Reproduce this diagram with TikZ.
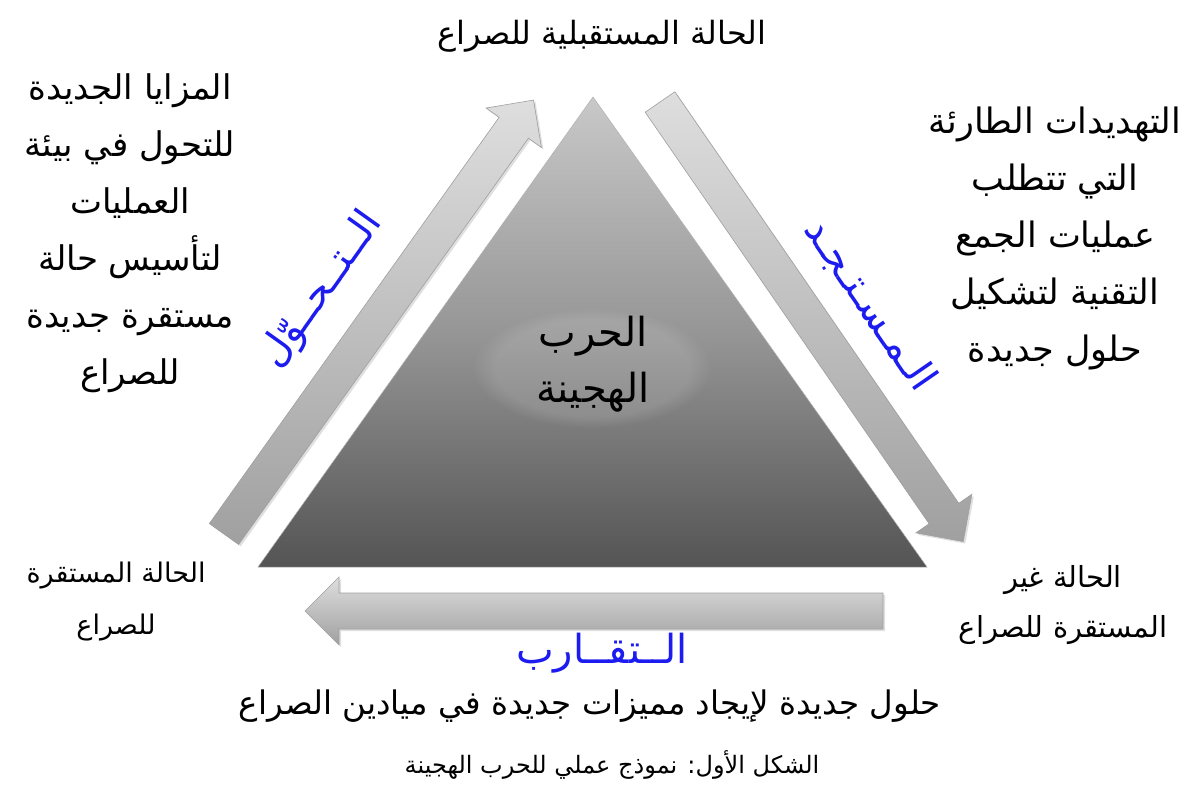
\documentclass[tikz,border=0pt]{standalone}
\usepackage{fontspec}
\usetikzlibrary{shadows,fadings}
\newfontfamily\arabicfont[Script=Arabic]{DejaVu Sans}
\TeXXeTstate=1
\newcommand\ar[1]{\beginR #1\endR}
\definecolor{lblue}{RGB}{28,28,240}
\definecolor{trtop}{RGB}{200,200,200}
\definecolor{trmid}{RGB}{150,150,150}
\definecolor{trbot}{RGB}{84,84,84}
\definecolor{arlight}{RGB}{222,222,222}
\definecolor{ardark}{RGB}{160,160,160}
\tikzset{
  arrowbody/.style={top color=arlight, bottom color=ardark, draw=gray!75, line width=0.6pt,
     drop shadow={opacity=0.25, shadow xshift=2pt, shadow yshift=-2pt}},
  txt/.style={font=\arabicfont\fontsize{34}{57}\selectfont, align=center, inner sep=0pt},
  bluetxt/.style={font=\arabicfont\fontsize{40}{44}\selectfont, text=lblue, inner sep=0pt},
}
\newcommand\fatarrow[3]{%
  \begin{scope}[shift={#1},rotate=#2]
    \path[arrowbody] (0,-18) -- ({#3-34},-18) -- ({#3-34},-34) -- (#3,0) -- ({#3-34},34) -- ({#3-34},18) -- (0,18) -- cycle;
  \end{scope}}
\begin{document}
\begin{tikzpicture}[x=1pt,y=-1pt]
\useasboundingbox (0,0) rectangle (1192,794);
\fill[white] (0,0) rectangle (1192,794);
% triangle
\coordinate (A) at (593,97);
\coordinate (B) at (258,567);
\coordinate (C) at (927,567);
\path[top color=trtop, bottom color=trbot, middle color=trmid, draw=gray!60, line width=0.5pt] (A) -- (B) -- (C) -- cycle;
\fill[white, opacity=0.12, path fading=circle with fuzzy edge 20 percent] (592,368) ellipse [x radius=120, y radius=60];
% arrows
\fatarrow{(224,534)}{54.5}{533}
\fatarrow{(660,102)}{-55.4}{534}
\fatarrow{(883,611)}{180}{578}
% texts
\node[txt, font=\arabicfont\fontsize{32}{40}\selectfont] (top) at (602,36) {\ar{الحالة المستقبلية للصراع}};
\node[txt] (left) at (130,233) {\ar{المزايا الجديدة}\\ \ar{للتحول في بيئة}\\ \ar{العمليات}\\ \ar{لتأسيس حالة}\\ \ar{مستقرة جديدة}\\ \ar{للصراع}};
\node[txt, font=\arabicfont\fontsize{35}{57}\selectfont] (right) at (1055,238) {\ar{التهديدات الطارئة}\\ \ar{التي تتطلب}\\ \ar{عمليات الجمع}\\ \ar{التقنية لتشكيل}\\ \ar{حلول جديدة}};
\node[txt, font=\arabicfont\fontsize{40}{56}\selectfont] (center) at (593,364) {\ar{الحرب}\\ \ar{الهجينة}};
\node[txt, font=\arabicfont\fontsize{27}{52}\selectfont] (bl) at (116,602) {\ar{الحالة المستقرة}\\ \ar{للصراع}};
\node[txt, font=\arabicfont\fontsize{29}{50}\selectfont] (br) at (1063,605) {\ar{الحالة غير}\\ \ar{المستقرة للصراع}};
\node[bluetxt] (taqarub) at (602,653) {\ar{الــتقــارب}};
\node[bluetxt, rotate=54.5] (tahawwul) at (322,290) {\ar{الــتــحــوّل}};
\node[bluetxt, rotate=-55.4] (mustajad) at (870,305) {\ar{الـمـسـتـجـد}};
\node[txt, font=\arabicfont\fontsize{32.5}{36}\selectfont] (sol) at (590,706) {\ar{حلول جديدة لإيجاد مميزات جديدة في ميادين الصراع}};
\node[txt, font=\arabicfont\fontsize{24}{28}\selectfont] (cap) at (612,765) {\ar{الشكل الأول: نموذج عملي للحرب الهجينة}};
\end{tikzpicture}
\end{document}
